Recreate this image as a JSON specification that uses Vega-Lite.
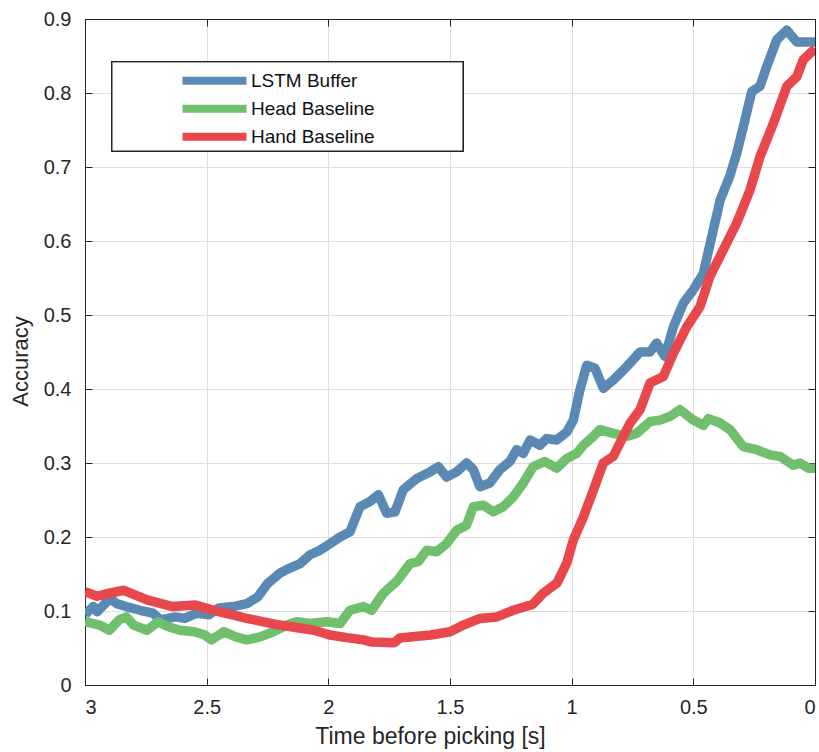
{
  "$schema": "https://vega.github.io/schema/vega-lite/v6.json",
  "width": 730,
  "height": 666,
  "autosize": {"type": "none"},
  "padding": {"left": 85, "top": 19, "right": 4, "bottom": 67},
  "background": "white",
  "config": {
    "view": {"stroke": "#262626", "strokeWidth": 1},
    "font": "Liberation Sans",
    "axis": {
      "labelFont": "Liberation Sans",
      "titleFont": "Liberation Sans",
      "labelFontSize": 20,
      "titleFontSize": 22,
      "labelColor": "#262626",
      "titleColor": "#262626",
      "titleFontWeight": "normal",
      "domainColor": "#262626",
      "tickColor": "#262626",
      "gridColor": "#dedede",
      "gridWidth": 1
    }
  },
  "datasets": {
    "curves": [
      {"t": 3.0, "acc": 0.095, "method": "LSTM Buffer"},
      {"t": 2.966, "acc": 0.106, "method": "LSTM Buffer"},
      {"t": 2.95, "acc": 0.099, "method": "LSTM Buffer"},
      {"t": 2.897, "acc": 0.117, "method": "LSTM Buffer"},
      {"t": 2.87, "acc": 0.11, "method": "LSTM Buffer"},
      {"t": 2.83, "acc": 0.106, "method": "LSTM Buffer"},
      {"t": 2.774, "acc": 0.101, "method": "LSTM Buffer"},
      {"t": 2.72, "acc": 0.097, "method": "LSTM Buffer"},
      {"t": 2.69, "acc": 0.088, "method": "LSTM Buffer"},
      {"t": 2.63, "acc": 0.092, "method": "LSTM Buffer"},
      {"t": 2.59, "acc": 0.09, "method": "LSTM Buffer"},
      {"t": 2.54, "acc": 0.097, "method": "LSTM Buffer"},
      {"t": 2.49, "acc": 0.095, "method": "LSTM Buffer"},
      {"t": 2.45, "acc": 0.104, "method": "LSTM Buffer"},
      {"t": 2.39, "acc": 0.106, "method": "LSTM Buffer"},
      {"t": 2.335, "acc": 0.11, "method": "LSTM Buffer"},
      {"t": 2.29, "acc": 0.119, "method": "LSTM Buffer"},
      {"t": 2.25, "acc": 0.137, "method": "LSTM Buffer"},
      {"t": 2.2, "acc": 0.151, "method": "LSTM Buffer"},
      {"t": 2.158, "acc": 0.158, "method": "LSTM Buffer"},
      {"t": 2.116, "acc": 0.164, "method": "LSTM Buffer"},
      {"t": 2.075, "acc": 0.176, "method": "LSTM Buffer"},
      {"t": 2.035, "acc": 0.182, "method": "LSTM Buffer"},
      {"t": 1.993, "acc": 0.191, "method": "LSTM Buffer"},
      {"t": 1.952, "acc": 0.2, "method": "LSTM Buffer"},
      {"t": 1.911, "acc": 0.207, "method": "LSTM Buffer"},
      {"t": 1.87, "acc": 0.241, "method": "LSTM Buffer"},
      {"t": 1.829, "acc": 0.248, "method": "LSTM Buffer"},
      {"t": 1.794, "acc": 0.257, "method": "LSTM Buffer"},
      {"t": 1.76, "acc": 0.232, "method": "LSTM Buffer"},
      {"t": 1.726, "acc": 0.234, "method": "LSTM Buffer"},
      {"t": 1.692, "acc": 0.264, "method": "LSTM Buffer"},
      {"t": 1.637, "acc": 0.279, "method": "LSTM Buffer"},
      {"t": 1.582, "acc": 0.288, "method": "LSTM Buffer"},
      {"t": 1.548, "acc": 0.295, "method": "LSTM Buffer"},
      {"t": 1.514, "acc": 0.281, "method": "LSTM Buffer"},
      {"t": 1.473, "acc": 0.288, "method": "LSTM Buffer"},
      {"t": 1.432, "acc": 0.3, "method": "LSTM Buffer"},
      {"t": 1.404, "acc": 0.291, "method": "LSTM Buffer"},
      {"t": 1.377, "acc": 0.268, "method": "LSTM Buffer"},
      {"t": 1.336, "acc": 0.273, "method": "LSTM Buffer"},
      {"t": 1.295, "acc": 0.291, "method": "LSTM Buffer"},
      {"t": 1.254, "acc": 0.302, "method": "LSTM Buffer"},
      {"t": 1.226, "acc": 0.318, "method": "LSTM Buffer"},
      {"t": 1.199, "acc": 0.313, "method": "LSTM Buffer"},
      {"t": 1.171, "acc": 0.331, "method": "LSTM Buffer"},
      {"t": 1.13, "acc": 0.324, "method": "LSTM Buffer"},
      {"t": 1.103, "acc": 0.333, "method": "LSTM Buffer"},
      {"t": 1.062, "acc": 0.331, "method": "LSTM Buffer"},
      {"t": 1.02, "acc": 0.342, "method": "LSTM Buffer"},
      {"t": 0.993, "acc": 0.358, "method": "LSTM Buffer"},
      {"t": 0.966, "acc": 0.399, "method": "LSTM Buffer"},
      {"t": 0.938, "acc": 0.432, "method": "LSTM Buffer"},
      {"t": 0.904, "acc": 0.428, "method": "LSTM Buffer"},
      {"t": 0.87, "acc": 0.401, "method": "LSTM Buffer"},
      {"t": 0.829, "acc": 0.412, "method": "LSTM Buffer"},
      {"t": 0.774, "acc": 0.43, "method": "LSTM Buffer"},
      {"t": 0.719, "acc": 0.45, "method": "LSTM Buffer"},
      {"t": 0.678, "acc": 0.45, "method": "LSTM Buffer"},
      {"t": 0.651, "acc": 0.462, "method": "LSTM Buffer"},
      {"t": 0.617, "acc": 0.444, "method": "LSTM Buffer"},
      {"t": 0.582, "acc": 0.484, "method": "LSTM Buffer"},
      {"t": 0.541, "acc": 0.516, "method": "LSTM Buffer"},
      {"t": 0.5, "acc": 0.534, "method": "LSTM Buffer"},
      {"t": 0.459, "acc": 0.556, "method": "LSTM Buffer"},
      {"t": 0.418, "acc": 0.615, "method": "LSTM Buffer"},
      {"t": 0.39, "acc": 0.655, "method": "LSTM Buffer"},
      {"t": 0.349, "acc": 0.689, "method": "LSTM Buffer"},
      {"t": 0.322, "acc": 0.718, "method": "LSTM Buffer"},
      {"t": 0.295, "acc": 0.754, "method": "LSTM Buffer"},
      {"t": 0.26, "acc": 0.802, "method": "LSTM Buffer"},
      {"t": 0.226, "acc": 0.809, "method": "LSTM Buffer"},
      {"t": 0.198, "acc": 0.836, "method": "LSTM Buffer"},
      {"t": 0.157, "acc": 0.872, "method": "LSTM Buffer"},
      {"t": 0.116, "acc": 0.885, "method": "LSTM Buffer"},
      {"t": 0.075, "acc": 0.869, "method": "LSTM Buffer"},
      {"t": 0.0, "acc": 0.869, "method": "LSTM Buffer"},

      {"t": 3.0, "acc": 0.0855, "method": "Head Baseline"},
      {"t": 2.94, "acc": 0.081, "method": "Head Baseline"},
      {"t": 2.9, "acc": 0.074, "method": "Head Baseline"},
      {"t": 2.86, "acc": 0.088, "method": "Head Baseline"},
      {"t": 2.83, "acc": 0.092, "method": "Head Baseline"},
      {"t": 2.8, "acc": 0.081, "method": "Head Baseline"},
      {"t": 2.745, "acc": 0.074, "method": "Head Baseline"},
      {"t": 2.7, "acc": 0.0855, "method": "Head Baseline"},
      {"t": 2.66, "acc": 0.079, "method": "Head Baseline"},
      {"t": 2.61, "acc": 0.074, "method": "Head Baseline"},
      {"t": 2.55, "acc": 0.072, "method": "Head Baseline"},
      {"t": 2.51, "acc": 0.068, "method": "Head Baseline"},
      {"t": 2.48, "acc": 0.061, "method": "Head Baseline"},
      {"t": 2.43, "acc": 0.072, "method": "Head Baseline"},
      {"t": 2.38, "acc": 0.065, "method": "Head Baseline"},
      {"t": 2.335, "acc": 0.061, "method": "Head Baseline"},
      {"t": 2.28, "acc": 0.065, "method": "Head Baseline"},
      {"t": 2.226, "acc": 0.072, "method": "Head Baseline"},
      {"t": 2.17, "acc": 0.081, "method": "Head Baseline"},
      {"t": 2.13, "acc": 0.0855, "method": "Head Baseline"},
      {"t": 2.075, "acc": 0.083, "method": "Head Baseline"},
      {"t": 2.007, "acc": 0.0855, "method": "Head Baseline"},
      {"t": 1.952, "acc": 0.083, "method": "Head Baseline"},
      {"t": 1.911, "acc": 0.101, "method": "Head Baseline"},
      {"t": 1.856, "acc": 0.106, "method": "Head Baseline"},
      {"t": 1.822, "acc": 0.101, "method": "Head Baseline"},
      {"t": 1.774, "acc": 0.124, "method": "Head Baseline"},
      {"t": 1.719, "acc": 0.14, "method": "Head Baseline"},
      {"t": 1.664, "acc": 0.164, "method": "Head Baseline"},
      {"t": 1.63, "acc": 0.167, "method": "Head Baseline"},
      {"t": 1.596, "acc": 0.182, "method": "Head Baseline"},
      {"t": 1.555, "acc": 0.18, "method": "Head Baseline"},
      {"t": 1.514, "acc": 0.191, "method": "Head Baseline"},
      {"t": 1.473, "acc": 0.209, "method": "Head Baseline"},
      {"t": 1.432, "acc": 0.216, "method": "Head Baseline"},
      {"t": 1.404, "acc": 0.241, "method": "Head Baseline"},
      {"t": 1.363, "acc": 0.243, "method": "Head Baseline"},
      {"t": 1.322, "acc": 0.234, "method": "Head Baseline"},
      {"t": 1.281, "acc": 0.241, "method": "Head Baseline"},
      {"t": 1.24, "acc": 0.254, "method": "Head Baseline"},
      {"t": 1.199, "acc": 0.273, "method": "Head Baseline"},
      {"t": 1.158, "acc": 0.295, "method": "Head Baseline"},
      {"t": 1.11, "acc": 0.302, "method": "Head Baseline"},
      {"t": 1.062, "acc": 0.293, "method": "Head Baseline"},
      {"t": 1.02, "acc": 0.306, "method": "Head Baseline"},
      {"t": 0.979, "acc": 0.313, "method": "Head Baseline"},
      {"t": 0.952, "acc": 0.324, "method": "Head Baseline"},
      {"t": 0.911, "acc": 0.336, "method": "Head Baseline"},
      {"t": 0.884, "acc": 0.345, "method": "Head Baseline"},
      {"t": 0.829, "acc": 0.34, "method": "Head Baseline"},
      {"t": 0.774, "acc": 0.336, "method": "Head Baseline"},
      {"t": 0.733, "acc": 0.34, "method": "Head Baseline"},
      {"t": 0.678, "acc": 0.356, "method": "Head Baseline"},
      {"t": 0.637, "acc": 0.358, "method": "Head Baseline"},
      {"t": 0.596, "acc": 0.363, "method": "Head Baseline"},
      {"t": 0.555, "acc": 0.372, "method": "Head Baseline"},
      {"t": 0.5, "acc": 0.358, "method": "Head Baseline"},
      {"t": 0.459, "acc": 0.351, "method": "Head Baseline"},
      {"t": 0.438, "acc": 0.36, "method": "Head Baseline"},
      {"t": 0.39, "acc": 0.354, "method": "Head Baseline"},
      {"t": 0.349, "acc": 0.345, "method": "Head Baseline"},
      {"t": 0.295, "acc": 0.322, "method": "Head Baseline"},
      {"t": 0.24, "acc": 0.318, "method": "Head Baseline"},
      {"t": 0.185, "acc": 0.311, "method": "Head Baseline"},
      {"t": 0.144, "acc": 0.309, "method": "Head Baseline"},
      {"t": 0.089, "acc": 0.297, "method": "Head Baseline"},
      {"t": 0.062, "acc": 0.3, "method": "Head Baseline"},
      {"t": 0.027, "acc": 0.293, "method": "Head Baseline"},
      {"t": 0.0, "acc": 0.293, "method": "Head Baseline"},

      {"t": 3.0, "acc": 0.126, "method": "Hand Baseline"},
      {"t": 2.95, "acc": 0.12, "method": "Hand Baseline"},
      {"t": 2.9, "acc": 0.124, "method": "Hand Baseline"},
      {"t": 2.84, "acc": 0.128, "method": "Hand Baseline"},
      {"t": 2.745, "acc": 0.115, "method": "Hand Baseline"},
      {"t": 2.64, "acc": 0.106, "method": "Hand Baseline"},
      {"t": 2.546, "acc": 0.108, "method": "Hand Baseline"},
      {"t": 2.45, "acc": 0.099, "method": "Hand Baseline"},
      {"t": 2.335, "acc": 0.09, "method": "Hand Baseline"},
      {"t": 2.2, "acc": 0.081, "method": "Hand Baseline"},
      {"t": 2.06, "acc": 0.074, "method": "Hand Baseline"},
      {"t": 1.993, "acc": 0.0676, "method": "Hand Baseline"},
      {"t": 1.925, "acc": 0.064, "method": "Hand Baseline"},
      {"t": 1.856, "acc": 0.061, "method": "Hand Baseline"},
      {"t": 1.82, "acc": 0.058, "method": "Hand Baseline"},
      {"t": 1.73, "acc": 0.057, "method": "Hand Baseline"},
      {"t": 1.706, "acc": 0.0635, "method": "Hand Baseline"},
      {"t": 1.58, "acc": 0.0676, "method": "Hand Baseline"},
      {"t": 1.5, "acc": 0.072, "method": "Hand Baseline"},
      {"t": 1.445, "acc": 0.081, "method": "Hand Baseline"},
      {"t": 1.377, "acc": 0.09, "method": "Hand Baseline"},
      {"t": 1.308, "acc": 0.092, "method": "Hand Baseline"},
      {"t": 1.24, "acc": 0.101, "method": "Hand Baseline"},
      {"t": 1.16, "acc": 0.109, "method": "Hand Baseline"},
      {"t": 1.117, "acc": 0.124, "method": "Hand Baseline"},
      {"t": 1.06, "acc": 0.138, "method": "Hand Baseline"},
      {"t": 1.02, "acc": 0.165, "method": "Hand Baseline"},
      {"t": 0.993, "acc": 0.196, "method": "Hand Baseline"},
      {"t": 0.952, "acc": 0.227, "method": "Hand Baseline"},
      {"t": 0.911, "acc": 0.263, "method": "Hand Baseline"},
      {"t": 0.87, "acc": 0.3, "method": "Hand Baseline"},
      {"t": 0.829, "acc": 0.309, "method": "Hand Baseline"},
      {"t": 0.788, "acc": 0.336, "method": "Hand Baseline"},
      {"t": 0.76, "acc": 0.354, "method": "Hand Baseline"},
      {"t": 0.719, "acc": 0.372, "method": "Hand Baseline"},
      {"t": 0.678, "acc": 0.408, "method": "Hand Baseline"},
      {"t": 0.623, "acc": 0.417, "method": "Hand Baseline"},
      {"t": 0.582, "acc": 0.448, "method": "Hand Baseline"},
      {"t": 0.527, "acc": 0.484, "method": "Hand Baseline"},
      {"t": 0.473, "acc": 0.511, "method": "Hand Baseline"},
      {"t": 0.432, "acc": 0.552, "method": "Hand Baseline"},
      {"t": 0.377, "acc": 0.588, "method": "Hand Baseline"},
      {"t": 0.322, "acc": 0.624, "method": "Hand Baseline"},
      {"t": 0.267, "acc": 0.669, "method": "Hand Baseline"},
      {"t": 0.226, "acc": 0.714, "method": "Hand Baseline"},
      {"t": 0.171, "acc": 0.759, "method": "Hand Baseline"},
      {"t": 0.116, "acc": 0.809, "method": "Hand Baseline"},
      {"t": 0.075, "acc": 0.822, "method": "Hand Baseline"},
      {"t": 0.048, "acc": 0.845, "method": "Hand Baseline"},
      {"t": 0.0, "acc": 0.86, "method": "Hand Baseline"}
    ]
  },
  "data": {"name": "curves"},
  "resolve": {"axis": {"x": "independent", "y": "independent"}},
  "layer": [
    {
      "mark": {"type": "line", "strokeWidth": 9.5, "strokeJoin": "round", "strokeCap": "butt", "clip": true},
      "encoding": {
        "x": {
          "field": "t", "type": "quantitative",
          "scale": {"domain": [0, 3], "reverse": true, "nice": false},
          "axis": {"orient": "bottom", "values": [0, 0.5, 1, 1.5, 2, 2.5, 3], "format": "~g", "tickSize": -7, "labelPadding": 19, "title": "Time before picking [s]", "titleFontSize": 23, "titlePadding": 8, "titleX": 345, "titleAnchor": "middle", "grid": true}
        },
        "y": {
          "field": "acc", "type": "quantitative",
          "scale": {"domain": [0, 0.9], "nice": false, "zero": false},
          "axis": {"orient": "left", "values": [0, 0.1, 0.2, 0.3, 0.4, 0.5, 0.6, 0.7, 0.8, 0.9], "format": "~g", "tickSize": -7, "labelPadding": 21, "title": "Accuracy", "titlePadding": 11, "titleY": 342, "titleAnchor": "middle", "grid": true}
        },
        "color": {
          "field": "method", "type": "nominal",
          "scale": {"domain": ["LSTM Buffer", "Head Baseline", "Hand Baseline"], "range": ["#5a8ab4", "#6fbf6d", "#e8474c"]},
          "legend": {
            "title": null, "orient": "none", "legendX": 88, "legendY": 48,
            "symbolType": "M0,0H12.8", "symbolSize": 100, "symbolStrokeWidth": 8,
            "labelOffset": 59, "labelFontSize": 19, "labelFont": "Liberation Sans", "labelColor": "#111111",
            "clipHeight": 27.5, "rowPadding": 0, "padding": 0
          }
        },
        "order": {"field": "t", "sort": "descending"}
      }
    },
    {
      "mark": {"type": "rect", "fill": "white", "stroke": "#262626", "strokeWidth": 1},
      "encoding": {
        "x": {"datum": 2.889, "type": "quantitative", "axis": null},
        "x2": {"datum": 1.447},
        "y": {"datum": 0.842, "type": "quantitative", "axis": null},
        "y2": {"datum": 0.7216}
      }
    },
    {
      "mark": {"type": "line", "opacity": 0},
      "encoding": {
        "x": {"field": "t", "type": "quantitative", "axis": {"orient": "top", "values": [0, 0.5, 1, 1.5, 2, 2.5, 3], "labels": false, "title": null, "tickSize": -7, "grid": false}},
        "y": {"field": "acc", "type": "quantitative", "axis": {"orient": "right", "values": [0, 0.1, 0.2, 0.3, 0.4, 0.5, 0.6, 0.7, 0.8, 0.9], "labels": false, "title": null, "tickSize": -7, "grid": false}}
      }
    }
  ]
}
